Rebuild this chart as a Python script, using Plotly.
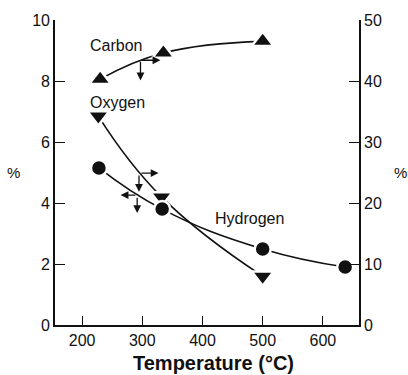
import plotly.graph_objects as go

# ---- data ----
temp_carbon = [230, 335, 500]
carbon_pct_right = [40.3, 44.6, 46.5]          # right axis (0-50 %)

temp_oxygen = [227, 332, 500]
oxygen_pct = [6.85, 4.2, 1.6]                   # left axis (0-10 %)

temp_hydrogen = [228, 333, 500, 637]
hydrogen_pct = [5.15, 3.8, 2.49, 1.9]           # left axis

x_ticks = [200, 300, 400, 500, 600]
y_left_ticks = [0, 2, 4, 6, 8, 10]
y_right_ticks = [0, 10, 20, 30, 40, 50]

# arrows: (axis, tail_T, tail_val, head_T, head_val)
arrows = [
    ("y2", 297, 43.4, 330, 43.4),
    ("y2", 297, 43.4, 297, 40.1),
    ("y", 296, 4.98, 327, 4.98),
    ("y", 294.5, 4.95, 294.5, 4.37),
    ("y", 291, 4.26, 264, 4.26),
    ("y", 291.5, 4.22, 291.5, 3.67),
]

labels = [("Carbon", 210, 9.18, "y"), ("Oxygen", 210, 7.28, "y"), ("Hydrogen", 417, 3.5, "y")]

BLACK = "#111111"
fig = go.Figure()

def add_series(x, y, symbol, size, yaxis):
    fig.add_trace(go.Scatter(
        x=x, y=y, yaxis=yaxis, mode="lines+markers",
        line=dict(color=BLACK, width=1.6, shape="spline", smoothing=1.3),
        marker=dict(symbol=symbol, size=size, color=BLACK,
                    line=dict(color="white", width=2.5)),
        showlegend=False, hoverinfo="skip", cliponaxis=False))

add_series(temp_carbon, carbon_pct_right, "triangle-up", 19, "y2")
add_series(temp_oxygen, oxygen_pct, "triangle-down", 19, "y")
add_series(temp_hydrogen, hydrogen_pct, "circle", 16, "y")

annotations = []
for ax_name, tx, ty, hx, hy in arrows:
    annotations.append(dict(
        x=hx, y=hy, ax=tx, ay=ty, xref="x", yref=ax_name, axref="x", ayref=ax_name,
        text="", showarrow=True, arrowhead=2, arrowsize=1.2, arrowwidth=1.3,
        arrowcolor=BLACK))

for txt, x, y, yr in labels:
    annotations.append(dict(x=x, y=y, xref="x", yref=yr, text=txt, showarrow=False,
                            xanchor="left", yanchor="middle",
                            font=dict(family="Liberation Sans", size=16, color=BLACK)))

for px in (-0.135, 1.135):
    annotations.append(dict(x=px, y=0.5, xref="paper", yref="paper", text="%", showarrow=False,
                            xanchor="center", yanchor="middle",
                            font=dict(family="Liberation Sans", size=15, color=BLACK)))

annotations.append(dict(x=0.52, y=-0.124, xref="paper", yref="paper",
                        text="<b>Temperature (°C)</b>", showarrow=False,
                        xanchor="center", yanchor="middle",
                        font=dict(family="Liberation Sans", size=20, color=BLACK)))

axis_font = dict(family="Liberation Sans", size=16, color=BLACK)

fig.update_layout(
    width=408, height=375,
    margin=dict(l=55, r=49, t=20, b=50),
    paper_bgcolor="white", plot_bgcolor="white",
    xaxis=dict(range=[155, 660], tickvals=x_ticks, ticks="inside", ticklen=9, tickwidth=1.3,
               tickcolor=BLACK, showline=True, linecolor=BLACK, linewidth=1.6,
               showgrid=False, zeroline=False, tickfont=axis_font,
               automargin=False),
    yaxis=dict(range=[0, 10], tickvals=y_left_ticks, ticks="inside", ticklen=10, tickwidth=1.3,
               tickcolor=BLACK, showline=True, linecolor=BLACK, linewidth=1.6,
               showgrid=False, zeroline=False, tickfont=axis_font, automargin=False),
    yaxis2=dict(range=[0, 50], tickvals=y_right_ticks, ticks="inside", ticklen=10, tickwidth=1.3,
                tickcolor=BLACK, showline=True, linecolor=BLACK, linewidth=1.6,
                overlaying="y", side="right", anchor="x", automargin=False,
                showgrid=False, zeroline=False, tickfont=axis_font),
    annotations=annotations,
)

fig.write_html("out.html")
